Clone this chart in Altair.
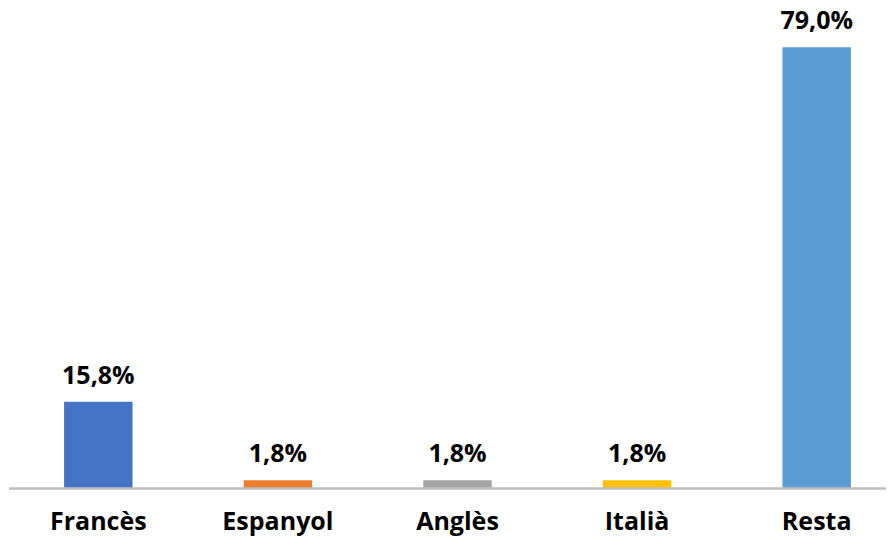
import altair as alt
import pandas as pd

categories = ["Francès", "Espanyol", "Anglès", "Italià", "Resta"]
values = [15.8, 1.8, 1.8, 1.8, 79.0]
labels = ["15,8%", "1,8%", "1,8%", "1,8%", "79,0%"]
colors = ["#4472C4", "#ED7D31", "#A5A5A5", "#FFC000", "#5B9BD5"]

df = pd.DataFrame({"cat": categories, "val": values, "label": labels})

FONT = "Open Sans"

x = alt.X("cat:N", sort=categories,
          scale=alt.Scale(paddingInner=0.619, paddingOuter=0.1954),
          axis=alt.Axis(title=None, labelAngle=0, labelFont=FONT, labelFontSize=25,
                        labelFontWeight="bold", labelColor="#000000", ticks=False,
                        labelPadding=21, domain=False, grid=False))
y = alt.Y("val:Q", scale=alt.Scale(domain=[0.4, 86.0], clamp=True, nice=False, zero=False),
          axis=None)

bars = alt.Chart(df).mark_bar().encode(
    x=x, y=y,
    y2=alt.datum(0),
    color=alt.Color("cat:N", scale=alt.Scale(domain=categories, range=colors), legend=None),
)

text = alt.Chart(df).mark_text(
    font=FONT, fontSize=25, fontWeight="bold", color="#000000",
    baseline="alphabetic", dy=-18
).encode(x=x, y=y, text="label:N")

baseline = alt.Chart(df).mark_rule(color="#BFBFBF", strokeWidth=1.3).encode(
    x=alt.value(-20), x2=alt.value(857), y=alt.value(480.5)
)

chart = alt.layer(bars, baseline, text).properties(
    width=857, height=480,
    autosize=alt.AutoSizeParams(type="none"),
    padding={"left": 21, "top": 0, "right": 0, "bottom": 49},
).configure_view(stroke=None)

chart.save("out.html", embed_options={"renderer": "svg", "actions": False})
